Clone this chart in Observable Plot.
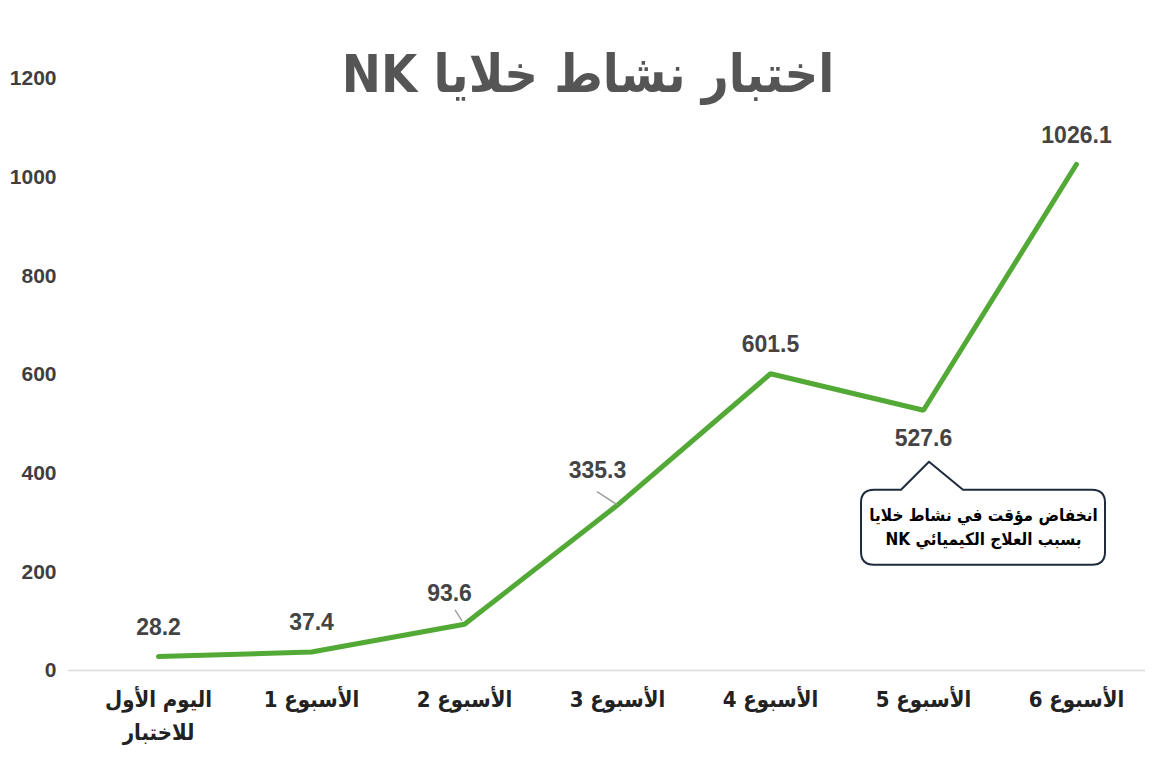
<!DOCTYPE html>
<html>
<head>
<meta charset="utf-8">
<script src="https://cdn.jsdelivr.net/npm/d3@7"></script>
<script src="https://cdn.jsdelivr.net/npm/@observablehq/plot@0.6"></script>
<style>
html, body { margin: 0; padding: 0; background: #ffffff; }
#chart { width: 1173px; height: 781px; }
</style>
</head>
<body>
<div id="chart"></div>
<script>
// ---- Data ----
const chartTitle = "اختبار نشاط خلايا NK";
const categories = [
  "اليوم الأول\nللاختبار",
  "الأسبوع 1",
  "الأسبوع 2",
  "الأسبوع 3",
  "الأسبوع 4",
  "الأسبوع 5",
  "الأسبوع 6"
];
const values = [28.2, 37.4, 93.6, 335.3, 601.5, 527.6, 1026.1];
const valueLabels = ["28.2", "37.4", "93.6", "335.3", "601.5", "527.6", "1026.1"];
const yTicks = [0, 200, 400, 600, 800, 1000, 1200];
const calloutCategory = "الأسبوع 5";
const calloutValue = 527.6;
const calloutText = "انخفاض مؤقت في نشاط خلايا\nبسبب العلاج الكيميائي NK";

const data = categories.map((c, i) => ({category: c, value: values[i], label: valueLabels[i], i}));

const FONT = "'Liberation Sans', Arial, 'DejaVu Sans', sans-serif";
const AR_FONT = "'DejaVu Sans Condensed', 'DejaVu Sans', sans-serif";
const LABEL_COLOR = "#444444";

// custom mark: leader lines and callout box, positioned through Plot's scales
function decorations(index, scales) {
  const {x, y} = scales;
  const g = d3.create("svg:g");
  const p2 = [x(categories[2]), y(values[2])];
  const p3 = [x(categories[3]), y(values[3])];
  g.append("line").attr("x1", p2[0] - 2).attr("y1", p2[1] - 3).attr("x2", p2[0] - 9).attr("y2", p2[1] - 14)
    .attr("stroke", "#9a9a9a").attr("stroke-width", 1.3);
  g.append("line").attr("x1", p3[0]).attr("y1", p3[1]).attr("x2", p3[0] - 20).attr("y2", p3[1] - 13)
    .attr("stroke", "#9a9a9a").attr("stroke-width", 1.3);
  const px = x(calloutCategory), py = y(calloutValue);
  const ax = px + 6, ay = py + 52;
  const L = px - 62, R = px + 182, T = py + 80, B = py + 155, r = 13;
  const bl = px - 22, br = px + 40;
  const d = `M${ax},${ay} L${br},${T} L${R - r},${T} Q${R},${T} ${R},${T + r} L${R},${B - r} Q${R},${B} ${R - r},${B} ` +
            `L${L + r},${B} Q${L},${B} ${L},${B - r} L${L},${T + r} Q${L},${T} ${L + r},${T} L${bl},${T} Z`;
  g.append("path").attr("d", d).attr("fill", "#ffffff").attr("stroke", "#1d2b3c").attr("stroke-width", 2)
    .attr("stroke-linejoin", "round");
  return g.node();
}

const plot = Plot.plot({
  width: 1173,
  height: 781,
  marginTop: 78,
  marginBottom: 111,
  marginLeft: 78,
  marginRight: 18,
  style: {fontFamily: FONT, background: "#ffffff", overflow: "visible"},
  x: {type: "point", domain: categories, padding: 0.5, label: null},
  y: {domain: [0, 1200], label: null},
  marks: [
    Plot.ruleY([0], {stroke: "#dcdcdc", strokeWidth: 1.5, dx: -10}),
    Plot.line(data, {x: "category", y: "value", stroke: "#52a935", strokeWidth: 5, strokeLinejoin: "miter", strokeLinecap: "round"}),
    decorations,
    Plot.text(data, {filter: d => d.i === 0 || d.i === 1 || d.i === 4 || d.i === 6, x: "category", y: "value", text: "label",
      dy: -29, fontSize: 23, fontWeight: "bold", fill: LABEL_COLOR}),
    Plot.text(data, {filter: d => d.i === 2, x: "category", y: "value", text: "label",
      dx: -15, dy: -31, fontSize: 23, fontWeight: "bold", fill: LABEL_COLOR}),
    Plot.text(data, {filter: d => d.i === 3, x: "category", y: "value", text: "label",
      dx: -20, dy: -34, fontSize: 23, fontWeight: "bold", fill: LABEL_COLOR}),
    Plot.text(data, {filter: d => d.i === 5, x: "category", y: "value", text: "label",
      dy: 28, fontSize: 23, fontWeight: "bold", fill: LABEL_COLOR}),
    Plot.text([calloutText], {x: () => calloutCategory, y: () => calloutValue, text: d => d,
      dx: 60, dy: 115, fontSize: 17, fontWeight: "bold", fill: "#000000", lineHeight: 1.45, fontFamily: AR_FONT}),
    Plot.text([chartTitle], {frameAnchor: "top", lineAnchor: "middle", text: d => d, dx: -29, dy: -3,
      fontSize: 52, fontWeight: "bold", fill: "#555555", fontFamily: AR_FONT}),
    Plot.axisY({ticks: yTicks, tickFormat: d => String(d), tickSize: 0, tickPadding: 22, fontSize: 21, fontWeight: "bold", color: "#3f3f3f", label: null}),
    Plot.axisX({tickSize: 0, tickPadding: 13, fontSize: 22, fontWeight: "bold", color: "#222222", lineHeight: 1.5, label: null, fontFamily: AR_FONT})
  ]
});

// Arabic text uses right-to-left base direction
const arabic = /[\u0600-\u06FF]/;
plot.querySelectorAll("text").forEach(t => {
  if (arabic.test(t.textContent)) t.setAttribute("direction", "rtl");
});

document.getElementById("chart").appendChild(plot);
</script>
</body>
</html>
